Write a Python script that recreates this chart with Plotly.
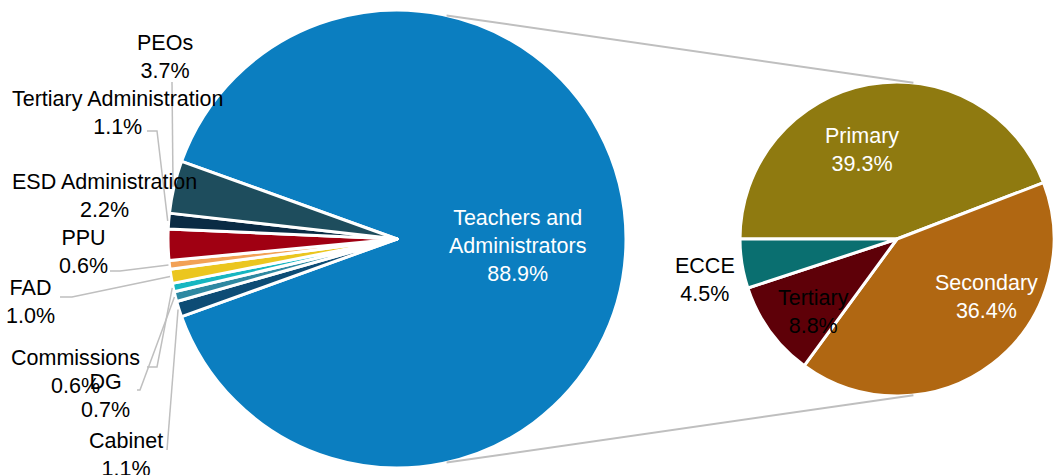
import math
import plotly.graph_objects as go

# ---- data -------------------------------------------------------------
main_labels = ["Teachers and Administrators", "Cabinet", "DG", "Commissions",
               "FAD", "PPU", "ESD Administration", "Tertiary Administration", "PEOs"]
main_values = [88.9, 1.1, 0.7, 0.6, 1.0, 0.6, 2.2, 1.1, 3.7]
main_colors = ["#0B7EC0", "#0D4C75", "#2E88A1", "#16B6C0", "#EBC61F",
               "#F2A155", "#A00012", "#0A2B44", "#1E4D5D"]

sub_labels = ["Primary", "Secondary", "Tertiary", "ECCE"]
sub_values = [39.3, 36.4, 8.8, 4.5]
sub_colors = ["#8F7A10", "#B06712", "#5E0008", "#0A6F70"]

# ---- canvas / geometry ------------------------------------------------
W, H = 1054, 475
FONT = "Liberation Sans, Arial, sans-serif"
FS = 21.5
GRID = "#BFBFBF"

main_cx, main_cy, main_r = 397, 239, 229
sub_cx, sub_cy, sub_r = 897, 239, 157


def px(x, y):
    """pixel position -> paper coordinates"""
    return x / W, 1 - y / H


def domain(cx, cy, r):
    return dict(x=[(cx - r) / W, (cx + r) / W],
                y=[1 - (cy + r) / H, 1 - (cy - r) / H])


total = sum(main_values)
other_share = sum(main_values[1:]) / total
# the big slice is centred on 3 o'clock
start_std = 180 - other_share * 180
main_rotation = 90 - start_std

fig = go.Figure()
fig.add_trace(go.Pie(
    labels=main_labels, values=main_values, sort=False,
    direction="clockwise", rotation=main_rotation,
    marker=dict(colors=main_colors, line=dict(color="white", width=3)),
    textinfo="none", hoverinfo="label+percent",
    domain=domain(main_cx, main_cy, main_r),
))
fig.add_trace(go.Pie(
    labels=sub_labels, values=sub_values, sort=False,
    direction="clockwise", rotation=-90,
    marker=dict(colors=sub_colors, line=dict(color="white", width=3)),
    textinfo="none", hoverinfo="label+value",
    domain=domain(sub_cx, sub_cy, sub_r),
))

# ---- slice anchors (mid-angle on the outer rim) -----------------------
anchors = {}
clock = main_rotation
for lab, v in zip(main_labels, main_values):
    span = v / total * 360
    mid = math.radians(clock + span / 2)
    anchors[lab] = (main_cx + (main_r + 1) * math.sin(mid),
                    main_cy - (main_r + 1) * math.cos(mid))
    clock += span

# ---- labels -----------------------------------------------------------
label_pos = {
    "PEOs": (165, 57),
    "Tertiary Administration": (118, 113),
    "ESD Administration": (104, 196),
    "PPU": (83, 252),
    "FAD": (30, 302),
    "Commissions": (75, 372),
    "DG": (105, 396),
    "Cabinet": (126, 455),
}
teacher_pos = (517, 246)
sub_pos = {
    "Primary": (862, 150),
    "Secondary": (986, 297),
    "Tertiary": (813, 312),
    "ECCE": (705, 280),
}
sub_text_color = {"Primary": "white", "Secondary": "white",
                  "Tertiary": "black", "ECCE": "black"}

annotations = []


def add_label(text, pos, color="black"):
    x, y = px(*pos)
    annotations.append(dict(
        x=x, y=y, xref="paper", yref="paper", text=text, showarrow=False,
        xanchor="center", yanchor="middle", align="center",
        font=dict(family=FONT, size=FS, color=color)))


for lab, v in zip(main_labels[1:], main_values[1:]):
    add_label(f"{lab}<br>{v:.1f}%", label_pos[lab])

add_label(f"Teachers and<br>Administrators<br>{main_values[0]:.1f}%",
          teacher_pos, "white")

for lab, v in zip(sub_labels, sub_values):
    add_label(f"{lab}<br>{v:.1f}%", sub_pos[lab], sub_text_color[lab])

# ---- leader lines -----------------------------------------------------
leader_start = {
    "PEOs": [(172, 82)],
    "Tertiary Administration": [(147, 131), (157, 131)],
    "PPU": [(110, 271), (120, 271)],
    "FAD": [(60, 297), (72, 297)],
    "Commissions": [(147, 367), (157, 367)],
    "DG": [(137, 390), (140, 390)],
    "Cabinet": [(167, 450)],
}

shapes = []
for lab, pts in leader_start.items():
    path_pts = pts + [anchors[lab]]
    coords = [px(x, y) for x, y in path_pts]
    path = "M " + " L ".join(f"{x:.5f},{y:.5f}" for x, y in coords)
    shapes.append(dict(type="path", xref="paper", yref="paper", path=path,
                       line=dict(color=GRID, width=1.5)))

# ---- connector lines between the two pies -----------------------------
main_a = math.radians(12.5)
sub_a = math.radians(6)
for sgn in (-1, 1):
    x0 = main_cx + main_r * math.sin(main_a)
    y0 = main_cy + sgn * main_r * math.cos(main_a)
    x1 = sub_cx + sub_r * math.sin(sub_a)
    y1 = sub_cy + sgn * sub_r * math.cos(sub_a)
    (a, b), (c, d) = px(x0, y0), px(x1, y1)
    shapes.append(dict(type="line", xref="paper", yref="paper",
                       x0=a, y0=b, x1=c, y1=d,
                       line=dict(color=GRID, width=2)))

fig.update_layout(
    width=W, height=H,
    margin=dict(l=0, r=0, t=0, b=0),
    paper_bgcolor="white", plot_bgcolor="white",
    showlegend=False,
    annotations=annotations, shapes=shapes,
    font=dict(family=FONT, size=FS),
)

fig.write_html("out.html")
